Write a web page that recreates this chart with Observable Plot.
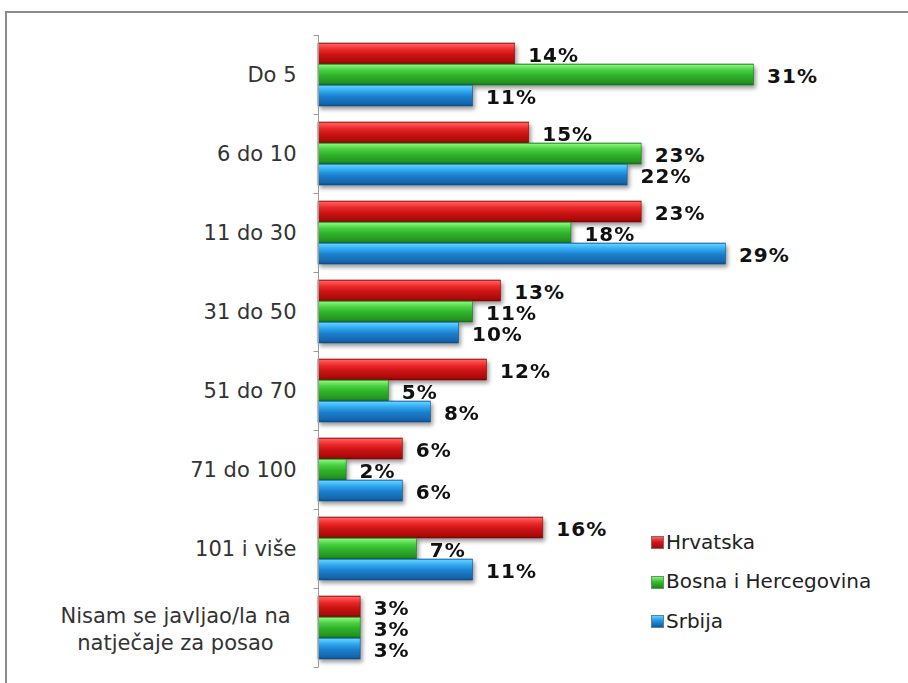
<!DOCTYPE html>
<html>
<head>
<meta charset="utf-8">
<script src="https://cdn.jsdelivr.net/npm/d3@7"></script>
<script src="https://cdn.jsdelivr.net/npm/@observablehq/plot@0.6"></script>
<style>
  body { margin: 0; background: #fff; }
  #wrap { position: relative; width: 908px; height: 683px; overflow: hidden; background: #fff; }
  #frame { position: absolute; left: 5px; top: 11px; width: 1000px; height: 1000px; border: 2px solid #8c8c8c; box-sizing: border-box; pointer-events: none; }
  #chart { position: absolute; left: 0; top: 0; }
  #chart svg { background: transparent !important; }
  .bars g[aria-label="bar"] { filter: drop-shadow(2px 3px 2px rgba(0,0,0,0.4)); }
  .bars g[aria-label="text"] { letter-spacing: 1px; }
  #legend { position: absolute; left: 651px; top: 528px; font-family: "DejaVu Sans", Verdana, sans-serif; font-size: 20px; color: #222; }
  #legend .item { display: flex; align-items: center; height: 27px; margin-bottom: 12.5px; white-space: nowrap; }
  #legend .sw { width: 13px; height: 13px; margin-right: 2px; margin-top: 2px; box-sizing: border-box; }
</style>
</head>
<body>
<div id="wrap">
  <div id="frame"></div>
  <div id="chart"></div>
  <div id="legend"></div>
</div>
<script>
const categories = ["Do 5", "6 do 10", "11 do 30", "31 do 50", "51 do 70", "71 do 100", "101 i više", "Nisam se javljao/la na\nnatječaje za posao"];
const seriesNames = ["Hrvatska", "Bosna i Hercegovina", "Srbija"];
const hrvatska = [14, 15, 23, 13, 12, 6, 16, 3];
const bih = [31, 23, 18, 11, 5, 2, 7, 3];
const srbija = [11, 22, 29, 10, 8, 6, 11, 3];

const seriesValues = [hrvatska, bih, srbija];
const gradIds = ["gRed", "gGreen", "gBlue"];
const gradStops = [
  [["0", "#a02020"], ["0.07", "#ff5a5a"], ["0.3", "#ec2a2a"], ["0.55", "#cc1414"], ["0.9", "#aa0a0a"], ["1", "#7a0000"]],
  [["0", "#3a9a3a"], ["0.07", "#82f274"], ["0.3", "#48cf40"], ["0.55", "#2fb22b"], ["0.9", "#23921f"], ["1", "#186a18"]],
  [["0", "#2a80c0"], ["0.07", "#5ccdff"], ["0.3", "#2ea6f0"], ["0.55", "#1c7fcc"], ["0.9", "#1464ac"], ["1", "#0b4a86"]]
];

const rows = [];
categories.forEach((c, i) => seriesNames.forEach((s, j) => rows.push({category: c, series: s, value: seriesValues[j][i]})));

function defsMark() {
  const ns = "http://www.w3.org/2000/svg";
  const defs = document.createElementNS(ns, "defs");
  gradIds.forEach((id, k) => {
    const g = document.createElementNS(ns, "linearGradient");
    g.setAttribute("id", id);
    g.setAttribute("x1", "0"); g.setAttribute("y1", "0");
    g.setAttribute("x2", "0"); g.setAttribute("y2", "1");
    gradStops[k].forEach(([o, c]) => {
      const st = document.createElementNS(ns, "stop");
      st.setAttribute("offset", o);
      st.setAttribute("stop-color", c);
      g.appendChild(st);
    });
    defs.appendChild(g);
  });
  return defs;
}

const tickSymbol = {
  draw(context) {
    context.moveTo(-5, 0);
    context.lineTo(0, 0);
  }
};

const barMarks = seriesNames.map((s, j) =>
  Plot.barX(rows.filter(d => d.series === s), {
    x: "value", y: "series", fy: "category",
    fill: `url(#${gradIds[j]})`,
    stroke: ["#8a0a0a", "#1c7a1c", "#0f5590"][j], strokeWidth: 0.6
  })
);

const chart = Plot.plot({
  width: 908,
  height: 683,
  marginLeft: 318,
  marginRight: 28,
  marginTop: 31,
  marginBottom: 13,
  className: "bars",
  style: {fontFamily: "DejaVu Sans, Verdana, sans-serif", background: "transparent"},
  x: {domain: [0, 40], axis: null},
  y: {domain: seriesNames, paddingInner: 0, paddingOuter: 0.375, axis: null},
  fy: {domain: categories, padding: 0},
  marks: [
    defsMark,
    ...barMarks,
    Plot.ruleX([0], {stroke: "#9a9a9a", strokeWidth: 1}),
    Plot.dot(categories, {fy: d => d, frameAnchor: "top-left", symbol: tickSymbol, fill: "none", stroke: "#9a9a9a", strokeWidth: 1}),
    Plot.dot(categories.slice(-1), {fy: d => d, frameAnchor: "bottom-left", symbol: tickSymbol, fill: "none", stroke: "#9a9a9a", strokeWidth: 1}),
    Plot.text(rows, {
      x: "value", y: "series", fy: "category",
      text: d => d.value + "%",
      textAnchor: "start", dx: 13, dy: 2,
      fontWeight: "bold", fontSize: 20, fill: "#111"
    }),
    Plot.axisFy({anchor: "left", ticks: categories.slice(0, -1), tickSize: 0, tickPadding: 22, fontSize: 21, fill: "#333", label: null}),
    Plot.axisFy({anchor: "left", ticks: categories.slice(-1), tickSize: 0, tickPadding: 143, textAnchor: "middle", lineHeight: 1.25, fontSize: 21, fill: "#333", label: null})
  ]
});
document.getElementById("chart").appendChild(chart);

const swatchBg = [
  "linear-gradient(#ff6060, #d01818 45%, #a00a0a)",
  "linear-gradient(#86f078, #36bb32 45%, #1e881c)",
  "linear-gradient(#62d0ff, #2290e0 45%, #0f5a9c)"
];
const legend = document.getElementById("legend");
seriesNames.forEach((s, j) => {
  const it = document.createElement("div");
  it.className = "item";
  const sw = document.createElement("span");
  sw.className = "sw";
  sw.style.background = swatchBg[j];
  sw.style.border = "1px solid " + ["#9a6060", "#5a9a5a", "#5a80a0"][j];
  const tx = document.createElement("span");
  tx.textContent = s;
  it.appendChild(sw); it.appendChild(tx);
  legend.appendChild(it);
});
</script>
</body>
</html>
